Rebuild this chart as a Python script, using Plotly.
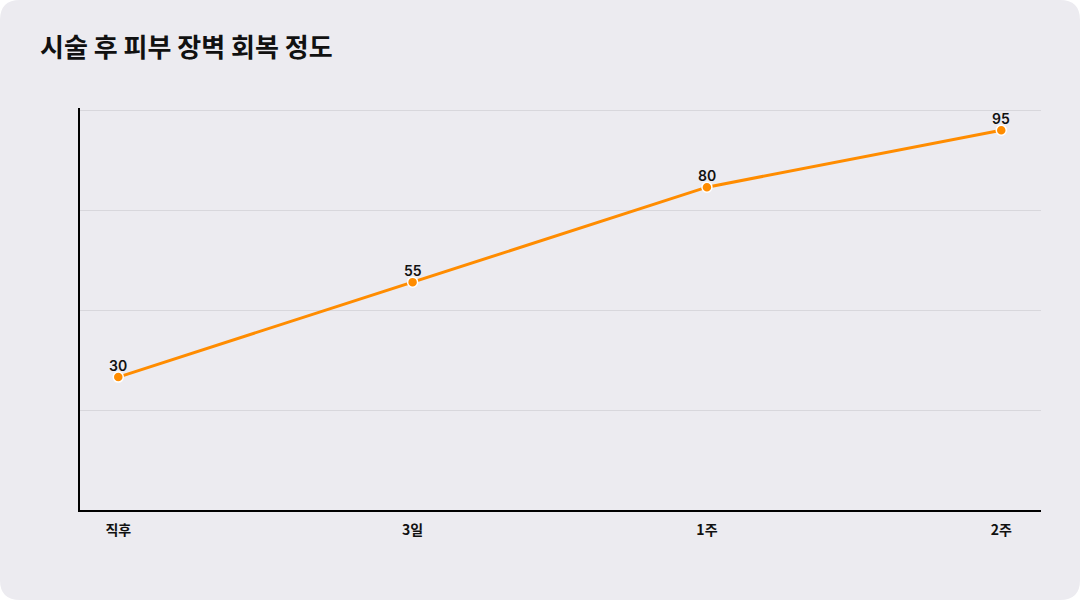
import plotly.graph_objects as go

# values
stages = ["직후", "3일", "1주", "2주"]
recovery = [30, 55, 80, 95]

title_text = "시술 후 피부 장벽 회복 정도"
font_family = "Noto Sans CJK KR, Noto Sans, sans-serif"
label_family = "Inter, Noto Sans CJK KR, sans-serif"

W, H = 1080, 600
ML, MR, MT, MB = 80, 39, 108, 90
plot_w = W - ML - MR
plot_h = H - MT - MB

y_lo, y_hi = -5, 100.3
grid_step = (y_hi - y_lo) / 4


def _px(x):
    return (x - ML) / plot_w


def _py(y):
    return (H - MB - y) / plot_h


def _card_path(radius=20):
    x0, x1 = _px(0), _px(W)
    y0, y1 = _py(H), _py(0)
    rx, ry = radius / plot_w, radius / plot_h
    return (
        f"M {x0 + rx},{y1} L {x1 - rx},{y1} Q {x1},{y1} {x1},{y1 - ry} "
        f"L {x1},{y0 + ry} Q {x1},{y0} {x1 - rx},{y0} "
        f"L {x0 + rx},{y0} Q {x0},{y0} {x0},{y0 + ry} "
        f"L {x0},{y1 - ry} Q {x0},{y1} {x0 + rx},{y1} Z"
    )


fig = go.Figure()
fig.add_trace(
    go.Scatter(
        x=stages,
        y=recovery,
        mode="lines+markers",
        line={"color": "#FF8C00", "width": 3},
        marker={"size": 10, "color": "#FF8C00", "line": {"color": "white", "width": 1.5}},
        cliponaxis=False,
        hoverinfo="skip",
    )
)

# value labels sit just above each marker
for stage, value in zip(stages, recovery):
    fig.add_annotation(
        x=stage,
        y=value,
        text=str(value),
        showarrow=False,
        yanchor="bottom",
        yshift=1,
        font={"family": label_family, "size": 14, "color": "#111111", "weight": 600},
    )

fig.add_shape(
    type="path",
    path=_card_path(),
    xref="paper",
    yref="paper",
    fillcolor="#ECEBF0",
    line={"width": 0},
    layer="below",
)

fig.update_layout(
    width=W,
    height=H,
    margin={"l": ML, "r": MR, "t": MT, "b": MB},
    paper_bgcolor="white",
    plot_bgcolor="rgba(0,0,0,0)",
    showlegend=False,
    font={"family": font_family, "color": "#111111"},
    title={
        "text": f"<b>{title_text}</b>",
        "x": 40 / W,
        "xanchor": "left",
        "y": 1 - 48 / H,
        "yanchor": "middle",
        "font": {"size": 26, "color": "#111111", "family": font_family},
    },
)
fig.update_xaxes(
    type="category",
    range=[-0.13, 3.135],
    showgrid=False,
    showline=True,
    linecolor="black",
    linewidth=2,
    ticks="",
    ticklabelstandoff=6,
    tickfont={"size": 14, "color": "#111111", "family": font_family, "weight": "bold"},
    fixedrange=True,
)
fig.update_yaxes(
    range=[y_lo, y_hi + 0.55],
    tickvals=[y_lo + grid_step * k for k in range(1, 5)],
    showticklabels=False,
    showgrid=True,
    gridcolor="#D8D7DC",
    gridwidth=1,
    zeroline=False,
    showline=True,
    linecolor="black",
    linewidth=2,
    ticks="",
    fixedrange=True,
)

fig.write_html(
    "out.html",
    config={"displayModeBar": False},
    post_script="document.body.style.margin = '0';",
)
